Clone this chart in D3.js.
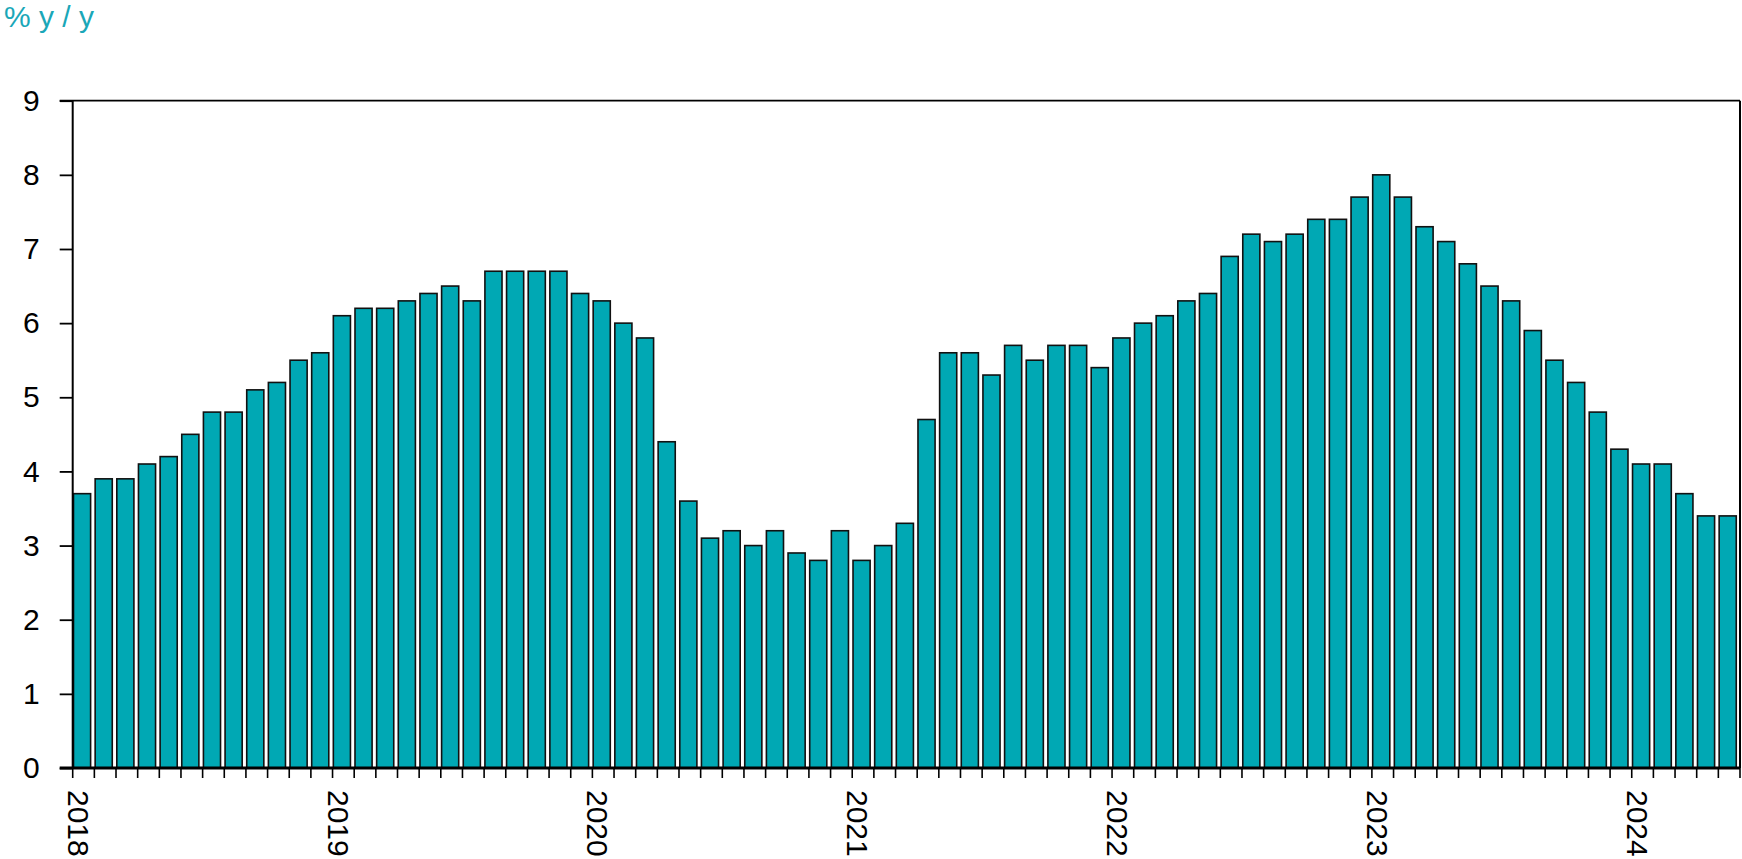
<!DOCTYPE html>
<html>
<head>
<meta charset="utf-8">
<script src="https://cdn.jsdelivr.net/npm/d3@7"></script>
<style>
  html, body { margin: 0; padding: 0; background: #fff; }
  svg { display: block; }
  text { font-family: "Liberation Sans", Arial, sans-serif; }
</style>
</head>
<body>
<svg id="chart" width="1742" height="859"></svg>
<script>
// ---- data ----
const years = [2018, 2019, 2020, 2021, 2022, 2023, 2024];
const months = [];
years.forEach(yr => { for (let m = 1; m <= 12; m++) months.push(yr + "-" + String(m).padStart(2, "0")); });
const categories = months.slice(0, 77); // Jan 2018 .. May 2024

const values = [
  3.7, 3.9, 3.9, 4.1, 4.2, 4.5, 4.8, 4.8, 5.1, 5.2, 5.5, 5.6,
  6.1, 6.2, 6.2, 6.3, 6.4, 6.5, 6.3, 6.7, 6.7, 6.7, 6.7, 6.4,
  6.3, 6.0, 5.8, 4.4, 3.6, 3.1, 3.2, 3.0, 3.2, 2.9, 2.8, 3.2,
  2.8, 3.0, 3.3, 4.7, 5.6, 5.6, 5.3, 5.7, 5.5, 5.7, 5.7, 5.4,
  5.8, 6.0, 6.1, 6.3, 6.4, 6.9, 7.2, 7.1, 7.2, 7.4, 7.4, 7.7,
  8.0, 7.7, 7.3, 7.1, 6.8, 6.5, 6.3, 5.9, 5.5, 5.2, 4.8, 4.3,
  4.1, 4.1, 3.7, 3.4, 3.4
];
const yTicks = [0, 1, 2, 3, 4, 5, 6, 7, 8, 9];
const yearLabels = ["2018", "2019", "2020", "2021", "2022", "2023", "2024"];
const unitLabel = "% y / y";

// ---- layout ----
const svg = d3.select("#chart");
const mLeft = 72.7, mRight = 1740, mTop = 100.7, mBottom = 768;
const barColor = "#00a8b4";
const textTeal = "#1aa7b8";

const x = d3.scaleBand().domain(categories).range([mLeft, mRight]).padding(0).align(0);
const y = d3.scaleLinear().domain([0, 9]).range([mBottom, mTop]);
const step = x.step();

// unit label
svg.append("text")
  .attr("x", 4).attr("y", 27)
  .attr("fill", textTeal)
  .attr("font-size", 30)
  .text(unitLabel);

// bars
svg.append("g").selectAll("rect")
  .data(values)
  .join("rect")
  .attr("x", (d, i) => x(categories[i]) + 0.8)
  .attr("width", step * 0.79)
  .attr("y", d => y(d))
  .attr("height", d => y(0) - y(d))
  .attr("fill", barColor)
  .attr("stroke", "#111")
  .attr("stroke-width", 1.6);

// y axis
const yAxis = d3.axisLeft(y).tickValues(yTicks).tickSize(13).tickPadding(20).tickFormat(d3.format("d"));
const gy = svg.append("g").attr("transform", `translate(${mLeft},0)`).call(yAxis);
gy.select(".domain").remove();
gy.selectAll(".tick line").attr("stroke", "#000").attr("stroke-width", 1.8);
gy.selectAll(".tick text").attr("font-size", 30).attr("fill", "#000")
  .attr("font-family", "'Liberation Sans', Arial, sans-serif");

// frame
svg.append("line").attr("x1", mLeft).attr("x2", mLeft).attr("y1", mTop).attr("y2", mBottom)
  .attr("stroke", "#000").attr("stroke-width", 2);
svg.append("line").attr("x1", mLeft - 13).attr("x2", mRight).attr("y1", mTop).attr("y2", mTop)
  .attr("stroke", "#000").attr("stroke-width", 1.8);
svg.append("line").attr("x1", mRight).attr("x2", mRight).attr("y1", mTop).attr("y2", mBottom)
  .attr("stroke", "#000").attr("stroke-width", 2);

// x axis: ticks at every category boundary
const boundaries = categories.map(c => x(c)).concat([mRight]);
const gx = svg.append("g");
gx.selectAll("line.xt")
  .data(boundaries)
  .join("line")
  .attr("class", "xt")
  .attr("x1", d => d).attr("x2", d => d)
  .attr("y1", mBottom).attr("y2", mBottom + 10)
  .attr("stroke", "#000").attr("stroke-width", 1.6);
svg.append("line").attr("x1", mLeft - 13).attr("x2", mRight).attr("y1", mBottom).attr("y2", mBottom)
  .attr("stroke", "#000").attr("stroke-width", 3);

// year labels (rotated, reading downward)
gx.selectAll("text.yl")
  .data(yearLabels)
  .join("text")
  .attr("class", "yl")
  .attr("font-size", 30)
  .attr("fill", "#000")
  .attr("transform", d => `translate(${x(d + "-01") - 5},${mBottom + 22}) rotate(90)`)
  .attr("text-anchor", "start")
  .text(d => d);
</script>
</body>
</html>
